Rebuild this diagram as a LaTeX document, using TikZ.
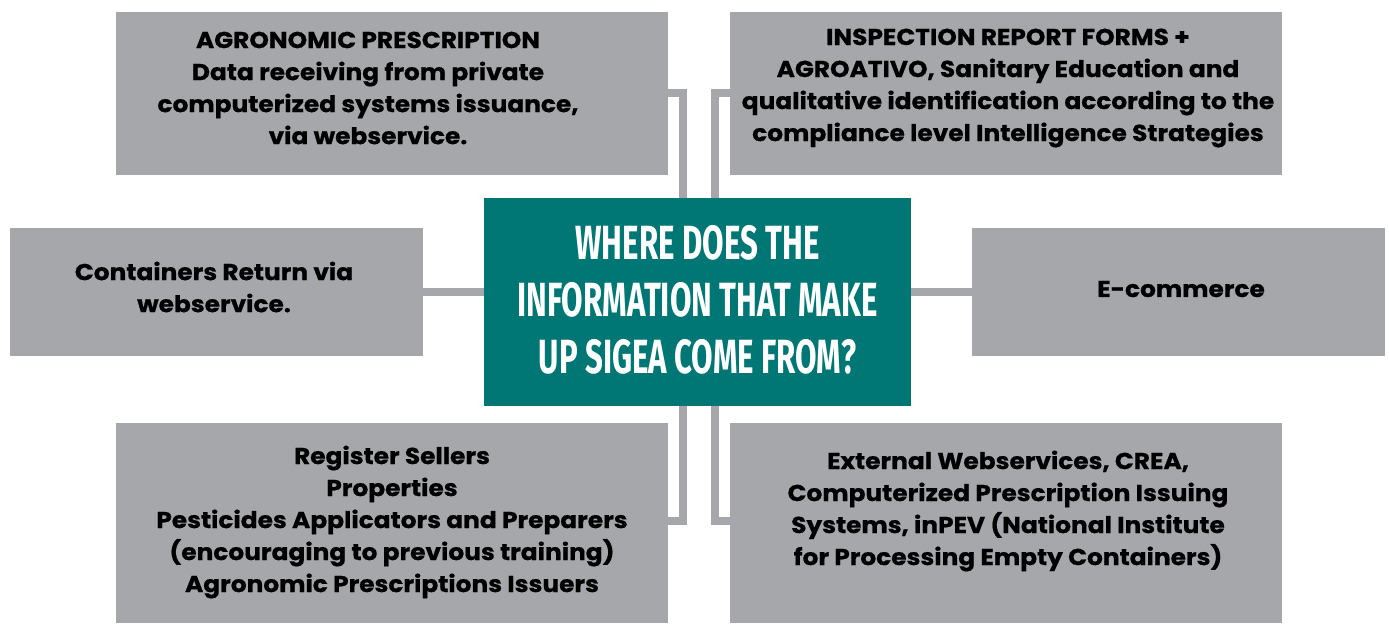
\documentclass[tikz,border=0pt]{standalone}
\usepackage{fontspec}
\setmainfont{Poppins}
\newfontfamily\boxfont{Poppins}[FakeStretch=1.08, BoldFeatures={FakeBold=0.7}]
\newfontfamily\titlefont[FakeStretch=0.65]{Fira Sans}
\definecolor{boxgray}{HTML}{A6A7AB}
\definecolor{sigeateal}{HTML}{007775}
\tikzset{
  graybox/.style={fill=boxgray, draw=none, inner sep=0pt, outer sep=0pt},
  tealbox/.style={fill=sigeateal, draw=none, inner sep=0pt, outer sep=0pt},
  lbl/.style={font=\boxfont\bfseries\fontsize{11.5}{16}\selectfont, align=center, text=black, inner sep=0pt},
  ttl/.style={font=\titlefont\bfseries\fontsize{24}{28.5}\selectfont, align=center, text=white, inner sep=0pt},
  conn/.style={draw=boxgray, line width=4pt}
}
\begin{document}
\begin{tikzpicture}[x=0.5pt,y=-0.5pt]
\useasboundingbox (0,0) rectangle (1389,623);
% boxes
\node[graybox, minimum width=276pt, minimum height=81.5pt] (TL) at (392,93.5) {};
\node[graybox, minimum width=276pt, minimum height=81.5pt] (TR) at (1006,93.5) {};
\node[graybox, minimum width=206.5pt, minimum height=64pt] (L) at (216.5,292) {};
\node[graybox, minimum width=206.5pt, minimum height=64pt] (R) at (1178.5,292) {};
\node[graybox, minimum width=276pt, minimum height=100pt] (BL) at (392,523) {};
\node[graybox, minimum width=276pt, minimum height=100pt] (BR) at (1006,523) {};
\node[tealbox, minimum width=213.5pt, minimum height=104pt] (C) at (697.5,302) {};
% connector guide coordinates
\coordinate (cl) at (683,0);
\coordinate (cr) at (715,0);
% connectors
\draw[conn] ([yshift=0.25pt]TL.east) -| (cl |- C.north);
\draw[conn] ([yshift=0.25pt]TR.west) -| (cr |- C.north);
\draw[conn] ([yshift=1pt]BL.east) -| (cl |- C.south);
\draw[conn] ([yshift=1pt]BR.west) -| (cr |- C.south);
\draw[conn] (L.east) -- (L.east -| C.west);
\draw[conn] (R.west) -- (R.west -| C.east);
% labels
\node[lbl] (tTL) at (368,88) {AGRONOMIC PRESCRIPTION\\Data receiving from private\\computerized systems issuance,\\via webservice.};
\node[lbl] (tTR) at (1008,88) {INSPECTION REPORT FORMS +\\AGROATIVO, Sanitary Education and\\qualitative identification according to the\\compliance level Intelligence Strategies};
\node[lbl] (tL) at (214,287) {Containers Return via\\webservice.};
\node[lbl] (tR) at (1181,289) {E-commerce};
\node[lbl] (tBL) at (392,522) {Register Sellers\\Properties\\Pesticides Applicators and Preparers\\(encouraging to previous training)\\Agronomic Prescriptions Issuers};
\node[lbl] (tBR) at (1008,511) {External Webservices, CREA,\\Computerized Prescription Issuing\\Systems, inPEV (National Institute\\for Processing Empty Containers)};
\node[ttl] (tC) at (697.5,300) {WHERE DOES THE\\INFORMATION THAT MAKE\\UP SIGEA COME FROM?};
\end{tikzpicture}
\end{document}
